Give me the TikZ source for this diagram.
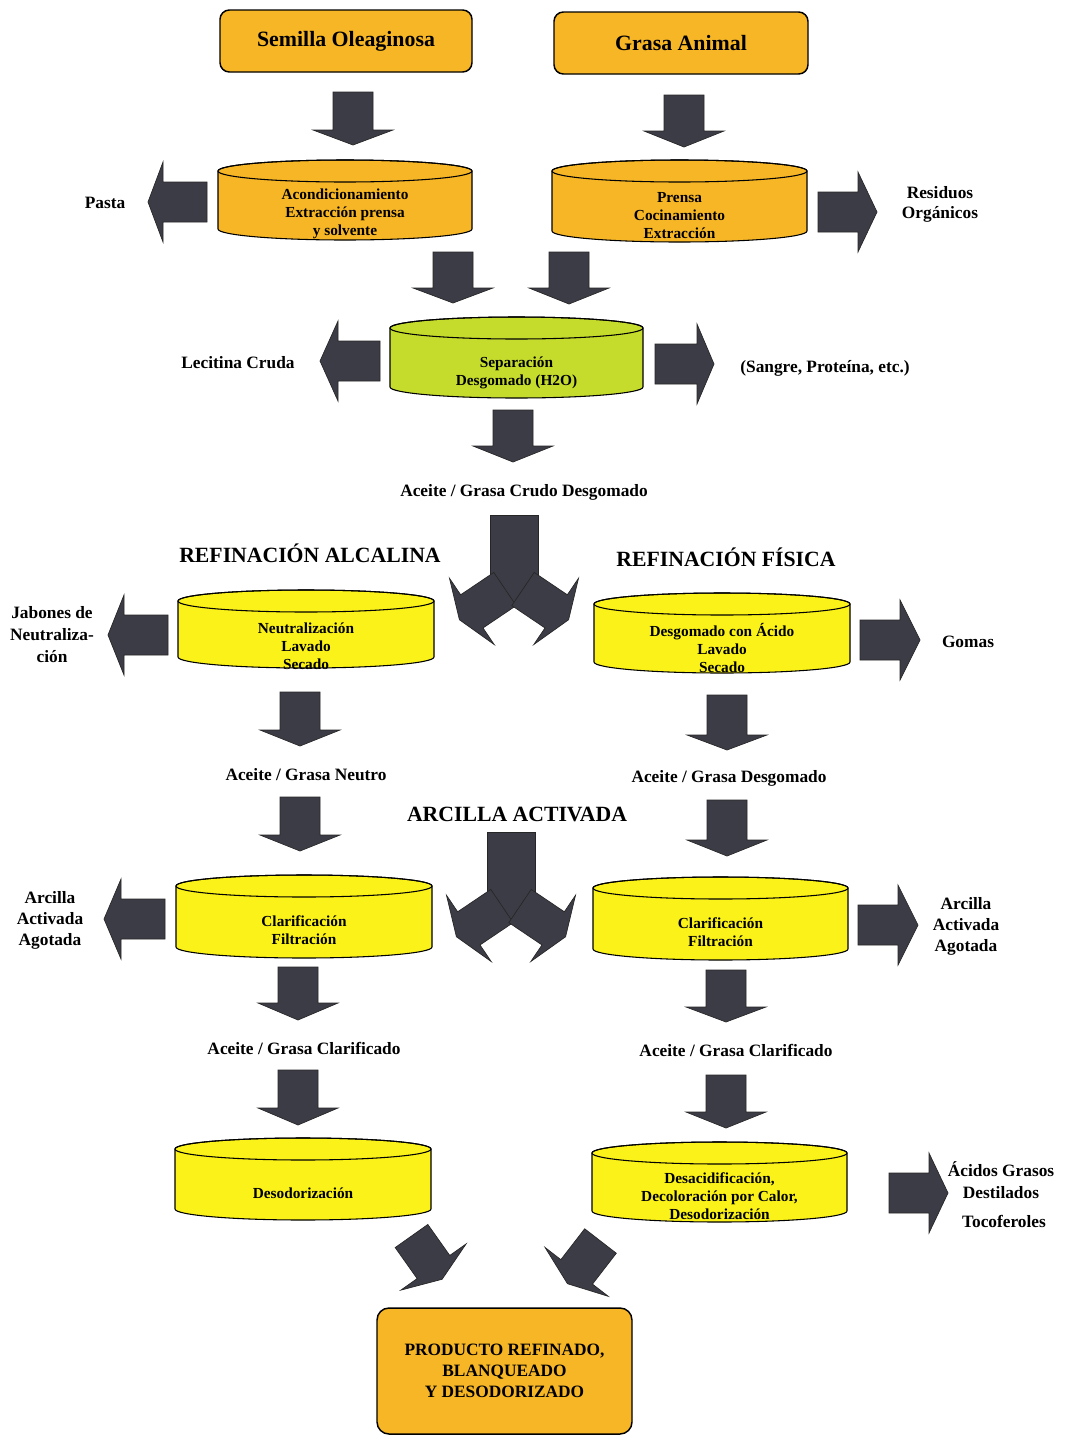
\documentclass[tikz,border=0pt]{standalone}
\usepackage{fontspec}
\setmainfont{Liberation Serif}
\definecolor{orng}{RGB}{246,182,38}
\definecolor{yel}{RGB}{250,242,24}
\definecolor{grn}{RGB}{198,220,44}
\definecolor{arr}{RGB}{60,60,70}
\tikzset{
 lbl/.style={font=\bfseries\fontsize{13}{16}\selectfont, align=center, inner sep=0pt},
 heading/.style={font=\bfseries\fontsize{16.3}{19}\selectfont, inner sep=0pt},
 cyltext/.style={font=\bfseries\fontsize{11.5}{13.5}\selectfont, align=center, inner sep=0pt},
 boxnode/.style={draw=black, line width=1.1pt, fill=orng, rounded corners=7pt, align=center},
 cyl/.style={draw=black, line width=0.8pt},
 barrow/.style={fill=arr, draw=black!85, line width=0.5pt, line join=miter}
}
% block arrow: back centre x, y, visual clockwise angle, shaft length, head length
\newcommand\BArrow[5]{%
 \filldraw[barrow, shift={(#1,#2)}, rotate=-#3] (0,-20) -- (#4,-20) -- (#4,-40) -- ({#4+#5},0) -- (#4,40) -- (#4,20) -- (0,20) -- cycle;}
% cylinder: name, cx, ytop, ybottom, half width, colour, text, text y
\newcommand\Cyl[8]{%
 \filldraw[cyl, fill=#6] ({#2-#5},#3) -- ({#2-#5},#4) arc[start angle=180, end angle=0, x radius=#5, y radius=11] -- ({#2+#5},#3) arc[start angle=0, end angle=-180, x radius=#5, y radius=11] -- cycle;
 \draw[cyl] (#2,#3) ellipse[x radius=#5, y radius=11];
 \node[cyltext] (#1) at (#2,#8) {#7};}
\begin{document}
\begin{tikzpicture}[x=0.75pt,y=-0.75pt]
\useasboundingbox (0,0) rectangle (1066,1436);
\fill[white] (0,0) rectangle (1066,1436);

% top boxes
\node[boxnode, minimum width=189pt, minimum height=46.5pt, font=\bfseries\fontsize{16.4}{19}\selectfont] (semilla) at (346,41) {Semilla Oleaginosa};
\node[boxnode, minimum width=190.5pt, minimum height=46.5pt, font=\bfseries\fontsize{16.4}{19}\selectfont] (grasa) at (681,43) {Grasa Animal};

% arrows down to first cylinders
\BArrow{353}{92}{90}{38}{15}
\BArrow{684}{95}{90}{36}{16}

% first cylinders
\Cyl{acond}{345}{171}{229}{127}{orng}{Acondicionamiento\\Extracción prensa\\y solvente}{214}
\Cyl{prensa}{679.5}{171}{231}{127.5}{orng}{Prensa\\Cocinamiento\\Extracción}{216}

\BArrow{207}{202}{180}{44}{15}
\node[lbl] (pasta) at (105,203) {Pasta};
\BArrow{818}{212}{0}{40}{19}
\node[lbl, font=\bfseries\fontsize{13}{15}\selectfont] (residuos) at (940,204) {Residuos\\Orgánicos};

% to separation
\BArrow{453}{252}{90}{36}{15}
\BArrow{569}{252}{90}{36}{16}

\Cyl{separ}{516.5}{328}{387}{126.5}{grn}{Separación\\Desgomado (H2O)}{373}
\BArrow{380}{361}{180}{42}{18}
\node[lbl] (lecitina) at (238,363) {Lecitina Cruda};
\BArrow{655}{364}{0}{42}{17}
\node[lbl] (sangre) at (825,368) {(Sangre, Proteína, etc.)};

\BArrow{513}{410}{90}{36}{16}
\node[lbl] (crudo) at (524,492) {Aceite / Grasa Crudo Desgomado};

% fork 1
\filldraw[barrow] (490,515) rectangle (538,603);
\BArrow{505}{589}{146}{40}{15}
\BArrow{523}{589}{34}{40}{15}

\node[heading] (alcalina) at (310,553) {REFINACIÓN ALCALINA};
\node[heading] (fisica) at (726,557) {REFINACIÓN FÍSICA};

\Cyl{neutra}{306}{601}{657}{128}{yel}{Neutralización\\Lavado\\Secado}{646}
\Cyl{desgac}{722}{604}{662}{128}{yel}{Desgomado con Ácido\\Lavado\\Secado}{648}

\BArrow{168}{635}{180}{44}{16}
\node[lbl, font=\bfseries\fontsize{13}{16.5}\selectfont] (jabones) at (52,635) {Jabones de\\Neutraliza-\\ción};
\BArrow{860}{640}{0}{40}{20}
\node[lbl] (gomas) at (968,642) {Gomas};

\BArrow{300}{692}{90}{38}{16}
\BArrow{727}{695}{90}{40}{15}
\node[lbl] (neutro) at (306,775) {Aceite / Grasa Neutro};
\node[lbl] (desgomado) at (729,778) {Aceite / Grasa Desgomado};

\node[heading] (arcilla) at (517,814) {ARCILLA ACTIVADA};

\BArrow{300}{797}{90}{38}{16}
\BArrow{727}{800}{90}{40}{16}

% fork 2
\filldraw[barrow] (487,832) rectangle (535,920);
\BArrow{502}{906}{146}{40}{15}
\BArrow{520}{906}{34}{40}{15}

\Cyl{clarL}{304}{886}{947}{128}{yel}{Clarificación\\Filtración}{930}
\Cyl{clarR}{720.5}{888}{949}{127.5}{yel}{Clarificación\\Filtración}{932}

\BArrow{165}{919}{180}{44}{17}
\node[lbl, font=\bfseries\fontsize{13}{15.75}\selectfont] (agotL) at (50,920) {Arcilla\\Activada\\Agotada};
\BArrow{858}{925}{0}{40}{20}
\node[lbl, font=\bfseries\fontsize{13}{15.75}\selectfont] (agotR) at (966,926) {Arcilla\\Activada\\Agotada};

\BArrow{298}{967}{90}{36}{17}
\BArrow{726}{970}{90}{37}{15}
\node[lbl] (clarifL) at (304,1048) {Aceite / Grasa Clarificado};
\node[lbl] (clarifR) at (736,1050) {Aceite / Grasa Clarificado};

\BArrow{298}{1070}{90}{38}{17}
\BArrow{726}{1075}{90}{37}{16}

\Cyl{desodo}{303}{1149}{1209}{128}{yel}{Desodorización}{1193}
\Cyl{desacid}{719.5}{1153}{1211}{127.5}{yel}{Desacidificación,\\Decoloración por Calor,\\Desodorización}{1196}

\BArrow{889}{1193}{0}{40}{19}
\node[lbl, font=\bfseries\fontsize{13}{16.5}\selectfont] (acidos) at (1001,1180) {Ácidos Grasos\\Destilados};
\node[lbl] (toco) at (1004,1221) {Tocoferoles};

% final arrows
\BArrow{411.5}{1236}{54.7}{38}{15}
\BArrow{600.5}{1241}{127.7}{39}{15}

\node[boxnode, rounded corners=9pt, minimum width=191.25pt, minimum height=94.5pt, font=\bfseries\fontsize{13}{15.75}\selectfont] (producto) at (504.5,1371) {PRODUCTO REFINADO,\\BLANQUEADO\\Y DESODORIZADO};
\end{tikzpicture}
\end{document}
